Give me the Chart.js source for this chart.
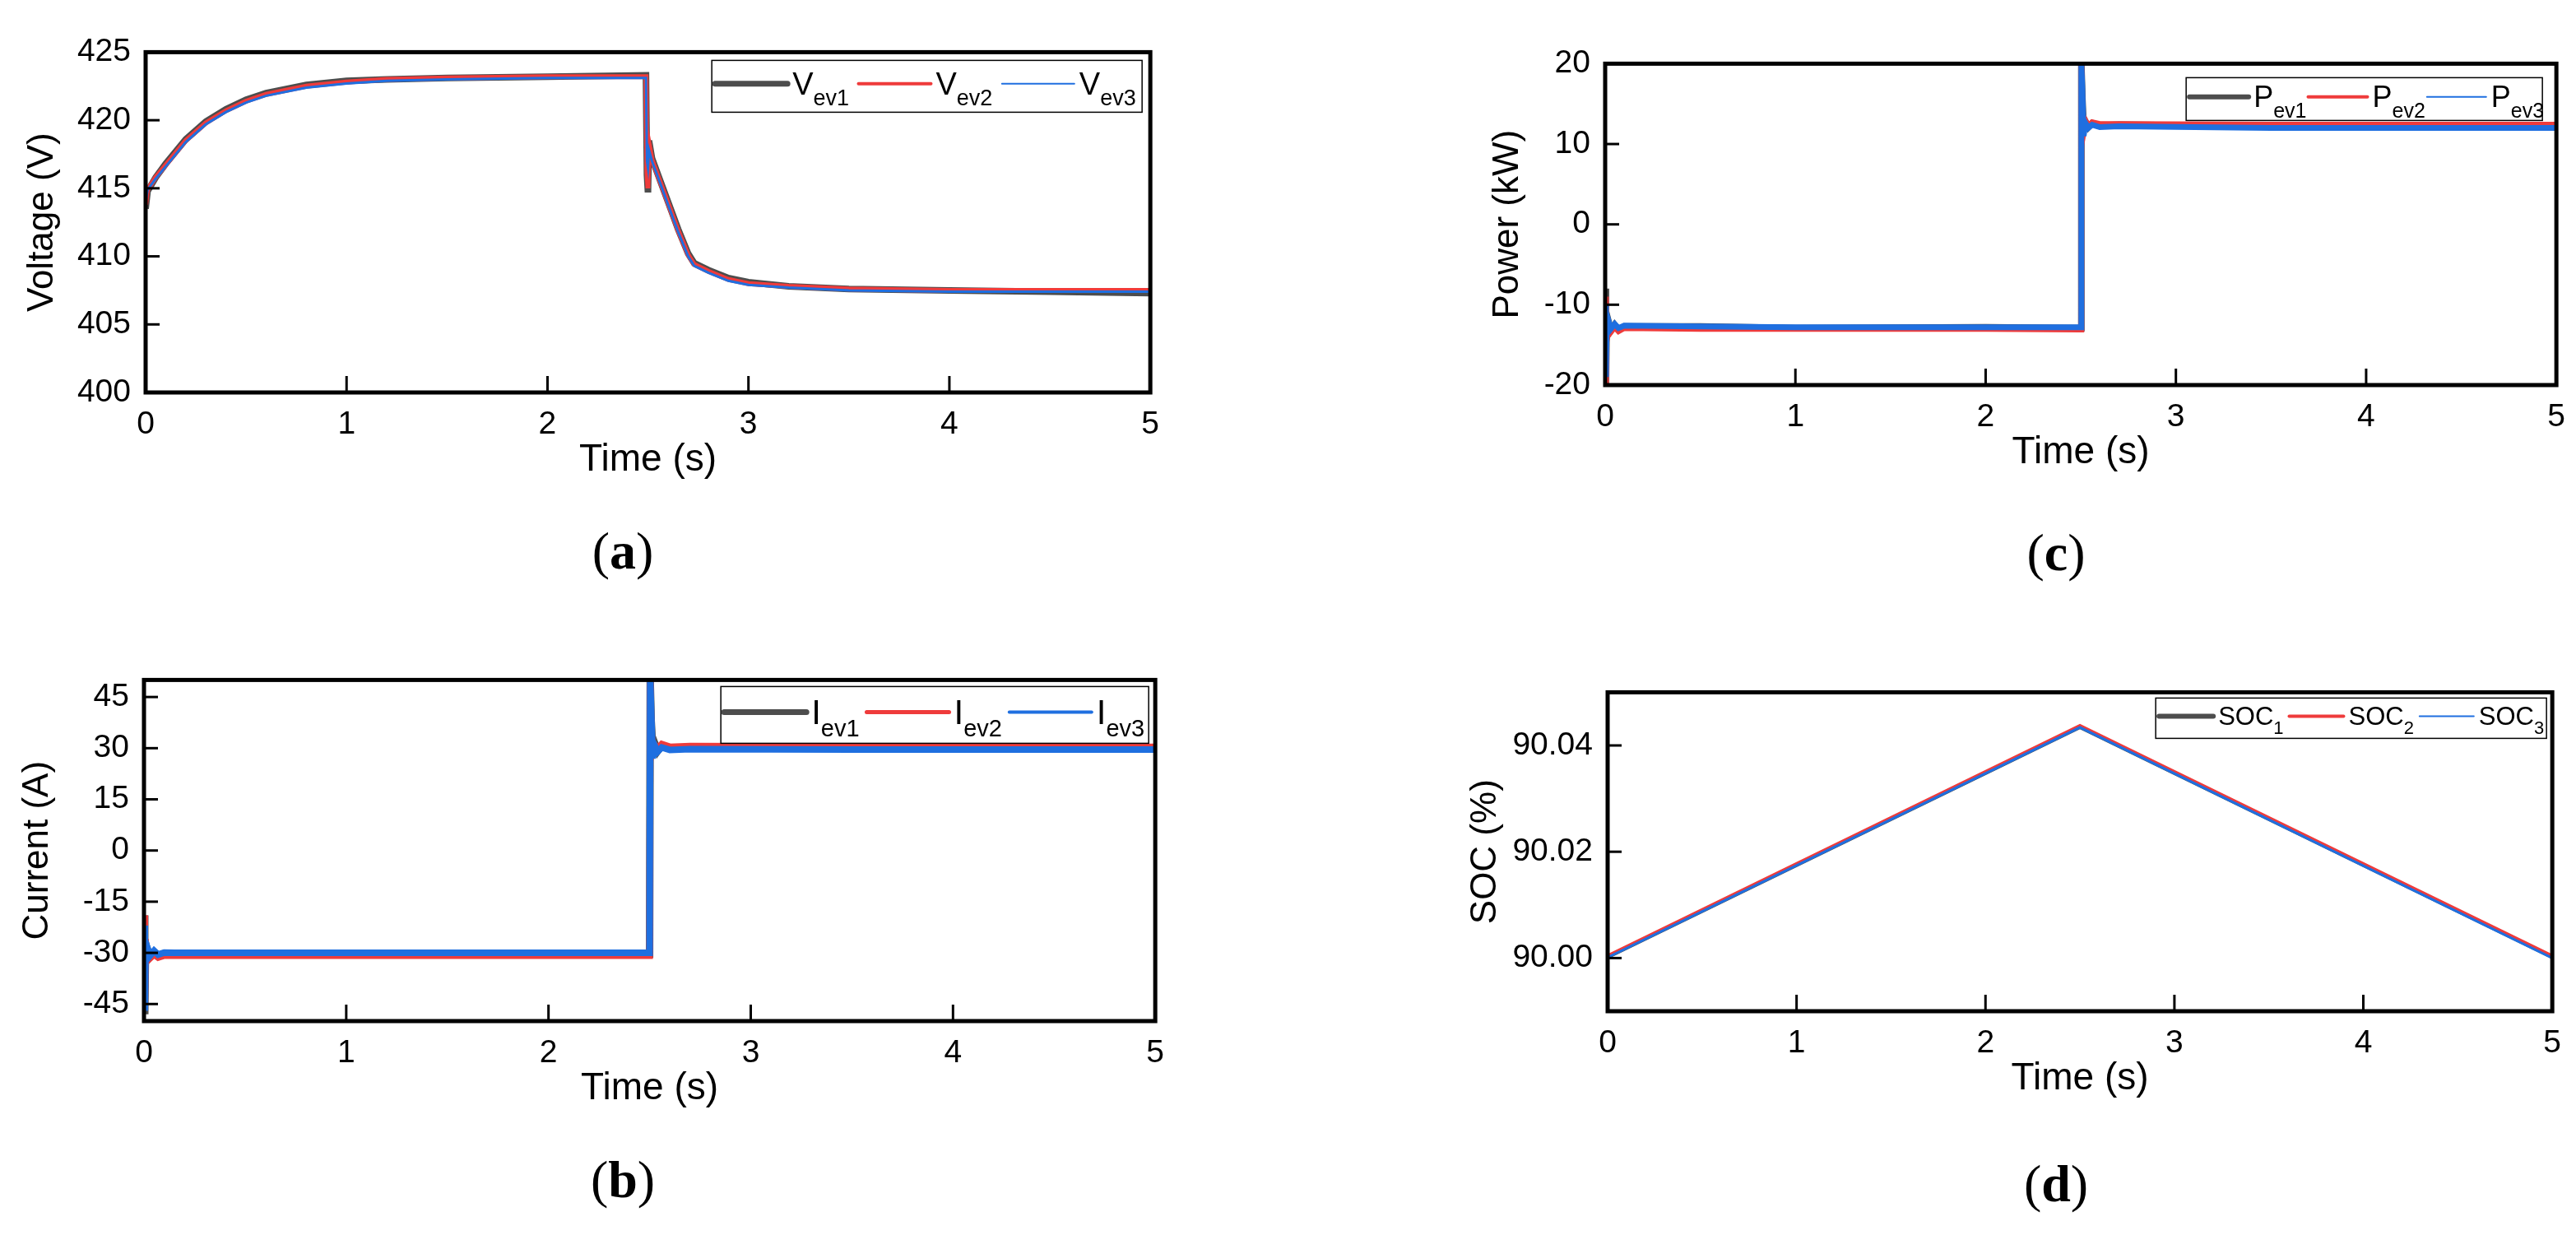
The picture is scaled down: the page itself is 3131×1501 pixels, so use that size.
<!DOCTYPE html>
<html>
<head>
  <meta charset="UTF-8">
  <title>EV voltage, current, power and SOC</title>
  <script src="https://cdn.jsdelivr.net/npm/chart.js"></script>
  <style>
    body { margin: 0; background: #fff; width: 3131px; height: 1501px; position: relative; overflow: hidden; }
    .panel { position: absolute; }
    .cap { position: absolute; font-family: "Liberation Serif", serif; font-size: 64px; transform: translate(-50%, -50%); }
    .cap b { font-weight: bold; }
  </style>
</head>
<body>
  <div class="panel" id="pa"><canvas id="ca"></canvas></div>
  <div class="panel" id="pb"><canvas id="cb"></canvas></div>
  <div class="panel" id="pc"><canvas id="cc"></canvas></div>
  <div class="panel" id="pd"><canvas id="cd"></canvas></div>
  <div class="cap" style="left:757px;top:670px">(<b>a</b>)</div>
  <div class="cap" style="left:757px;top:1434px">(<b>b</b>)</div>
  <div class="cap" style="left:2499px;top:672px">(<b>c</b>)</div>
  <div class="cap" style="left:2499px;top:1439px">(<b>d</b>)</div>

  <script>
    // ---- data ----
    const xTicks = [0, 1, 2, 3, 4, 5];

    // (a) voltage
    const tV = [0, 0.01, 0.05, 0.1, 0.2, 0.3, 0.4, 0.5, 0.6, 0.8, 1.0, 1.2, 1.5, 2.0, 2.49, 2.495, 2.5, 2.505, 2.52, 2.55, 2.6, 2.65, 2.7, 2.73, 2.8, 2.9, 3.0, 3.2, 3.5, 4.0, 4.5, 5.0];
    const vEv1 = [413.5, 414.8, 415.8, 416.8, 418.6, 419.9, 420.8, 421.5, 422.0, 422.6, 422.9, 423.0, 423.1, 423.2, 423.3, 416.0, 414.7, 418.5, 417.2, 416.0, 414.0, 412.0, 410.2, 409.5, 409.0, 408.4, 408.1, 407.8, 407.6, 407.5, 407.4, 407.3];
    const vEv2 = [413.8, 414.9, 415.8, 416.7, 418.5, 419.8, 420.7, 421.4, 421.9, 422.5, 422.8, 423.0, 423.1, 423.2, 423.2, 416.2, 415.0, 418.3, 417.1, 415.9, 413.9, 411.9, 410.1, 409.4, 408.9, 408.3, 408.0, 407.8, 407.6, 407.5, 407.5, 407.5];
    const vEv3 = [414.0, 414.9, 415.7, 416.6, 418.4, 419.7, 420.6, 421.3, 421.8, 422.4, 422.7, 422.9, 423.0, 423.1, 423.1, 417.0, 416.5, 417.8, 417.0, 415.8, 413.8, 411.8, 410.0, 409.3, 408.8, 408.2, 407.9, 407.7, 407.5, 407.4, 407.4, 407.4];
    const vTicks = [400, 405, 410, 415, 420, 425];

    // (b) current
    const tI = [0, 0.004, 0.008, 0.012, 0.02, 0.03, 0.05, 0.07, 0.1, 0.15, 1.0, 2.0, 2.495, 2.5, 2.503, 2.508, 2.515, 2.525, 2.54, 2.56, 2.6, 2.7, 3.5, 5.0];
    const iEv1 = [-19, -48, -27, -31, -29.5, -31.2, -29.8, -31, -30.2, -30.4, -30.4, -30.4, -30.4, -30.4, 50, 38, 30, 31.5, 29.2, 30.8, 29.8, 30.2, 30.0, 30.0];
    const iEv2 = [-19, -46, -26, -32, -30, -31.6, -30.5, -31.4, -30.8, -30.8, -30.8, -30.8, -30.8, -30.8, 50, 36, 29, 31, 30, 31.2, 30.4, 30.6, 30.5, 30.4];
    const iEv3 = [-22, -47, -28, -30.5, -29, -30.8, -29.4, -30.5, -29.9, -30.0, -30.0, -30.0, -30.0, -30.0, 50, 40, 27, 30.8, 29, 30.2, 29.5, 29.7, 29.6, 29.6];
    const iTicks = [-45, -30, -15, 0, 15, 30, 45];

    // (c) power
    const tP = [0, 0.004, 0.008, 0.012, 0.02, 0.03, 0.05, 0.07, 0.1, 0.5, 1.0, 2.0, 2.495, 2.5, 2.503, 2.508, 2.515, 2.525, 2.54, 2.56, 2.6, 2.7, 3.5, 5.0];
    const pEv1 = [-8, -20, -11.5, -13.5, -12.3, -13.2, -12.5, -13.1, -12.7, -12.7, -12.9, -12.8, -12.9, -12.9, 20, 16, 12, 12.8, 12.1, 12.6, 12.3, 12.4, 12.2, 12.1];
    const pEv2 = [-9, -20, -12, -13.8, -12.6, -13.4, -12.8, -13.3, -12.9, -13.0, -13.0, -13.0, -13.1, -13.1, 20, 15, 11.5, 12.9, 12.2, 12.7, 12.5, 12.5, 12.4, 12.4];
    const pEv3 = [-10, -19, -12.5, -13.2, -12.2, -13.0, -12.4, -12.9, -12.6, -12.7, -12.8, -12.8, -12.8, -12.8, 20, 17, 11, 12.6, 12.0, 12.4, 12.1, 12.2, 12.0, 12.0];
    const pTicks = [-20, -10, 0, 10, 20];

    // (d) SOC
    const tS = [0, 2.5, 5];
    const soc1 = [90.0002, 90.0435, 90.0002];
    const soc2 = [90.0004, 90.0437, 90.0004];
    const soc3 = [90.0001, 90.0434, 90.0];
    const sTicks = [90.00, 90.02, 90.04];

    const BLACK = '#4d4d4d', RED = '#ef3b3b', BLUE = '#1f6fe0';
    const tickFont = { family: '"Liberation Sans Narrow", "Liberation Sans", Arial, sans-serif', size: 39 };

    function xy(t, v) { return t.map((x, i) => ({ x: x, y: v[i] })); }

    // frame + inward ticks + legend with subscripts
    const framePlugin = {
      id: 'frame',
      afterDraw(chart) {
        const ctx = chart.ctx, a = chart.chartArea, o = chart.options.plugins.frame;
        ctx.save();
        ctx.strokeStyle = '#000';
        ctx.lineWidth = 3;
        chart.scales.x.ticks.forEach(tk => {
          const px = chart.scales.x.getPixelForValue(tk.value);
          ctx.beginPath(); ctx.moveTo(px, a.bottom); ctx.lineTo(px, a.bottom - 20); ctx.stroke();
        });
        chart.scales.y.ticks.forEach(tk => {
          const py = chart.scales.y.getPixelForValue(tk.value);
          ctx.beginPath(); ctx.moveTo(a.left, py); ctx.lineTo(a.left + 17, py); ctx.stroke();
        });
        ctx.lineWidth = 5;
        ctx.strokeRect(a.left, a.top, a.right - a.left, a.bottom - a.top);

        // legend
        const L = o.legend;
        const bx = a.right - L.gap - L.w, by = a.top + L.gap;
        ctx.fillStyle = '#fff';
        ctx.fillRect(bx, by, L.w, L.h);
        ctx.lineWidth = 1.5;
        ctx.strokeRect(bx, by, L.w, L.h);
        const ew = L.w / 3, ly = by + L.h * 0.45;
        chart.data.datasets.forEach((ds, k) => {
          const x0 = bx + 4 + k * ew;
          ctx.strokeStyle = ds.borderColor;
          ctx.lineWidth = L.widths[k];
          ctx.lineCap = 'round';
          ctx.beginPath(); ctx.moveTo(x0, ly); ctx.lineTo(x0 + L.line, ly); ctx.stroke();
          ctx.fillStyle = '#000';
          ctx.textBaseline = 'alphabetic';
          ctx.font = L.size + 'px ' + tickFont.family;
          const tx = x0 + L.line + 6;
          ctx.fillText(L.main[k], tx, ly + L.size * 0.35);
          const mw = ctx.measureText(L.main[k]).width;
          ctx.font = Math.round(L.size * 0.7) + 'px ' + tickFont.family;
          ctx.fillText(L.sub[k], tx + mw, ly + L.size * 0.7);
        });
        ctx.restore();
      }
    };

    function makePanel(id, box, W, t, series, yMin, yMax, yTicks, dec, yTitle, legend) {
      const div = document.getElementById('p' + id);
      const padTop = 25, padRight = 22, H = 110;
      div.style.left = (box.l - W) + 'px';
      div.style.top = (box.t - padTop) + 'px';
      div.style.width = (box.r - box.l + W + padRight) + 'px';
      div.style.height = (box.b - box.t + padTop + H) + 'px';
      const colors = [BLACK, RED, BLUE];
      new Chart(document.getElementById('c' + id), {
        type: 'line',
        data: {
          datasets: series.map((v, k) => ({
            data: xy(t, v),
            borderColor: colors[k],
            borderWidth: legend.lineWidths[k],
            pointRadius: 0,
            tension: 0,
            order: 3 - k
          }))
        },
        options: {
          responsive: true,
          maintainAspectRatio: false,
          devicePixelRatio: 1,
          animation: false,
          layout: { padding: { top: padTop, right: padRight, left: 0, bottom: 0 } },
          plugins: { legend: { display: false }, tooltip: { enabled: false }, frame: { legend: legend } },
          scales: {
            x: {
              type: 'linear', min: 0, max: 5,
              afterBuildTicks: s => { s.ticks = xTicks.map(v => ({ value: v })); },
              afterFit: s => { s.height = H; },
              grid: { display: false, drawTicks: false },
              border: { display: false },
              ticks: { font: tickFont, color: '#000', padding: 16, maxRotation: 0, autoSkip: false },
              title: { display: true, text: 'Time (s)', color: '#000', font: { family: tickFont.family, size: 46 }, padding: { top: -20, bottom: 0 } }
            },
            y: {
              min: yMin, max: yMax,
              afterBuildTicks: s => { s.ticks = yTicks.map(v => ({ value: v })); },
              afterFit: s => { s.width = W; },
              grid: { display: false, drawTicks: false },
              border: { display: false },
              ticks: { font: tickFont, color: '#000', padding: 18, autoSkip: false, callback: v => v.toFixed(dec) },
              title: { display: true, text: yTitle, color: '#000', font: { family: 'Arial, "Liberation Sans", sans-serif', size: 44 }, padding: 0 }
            }
          }
        },
        plugins: [framePlugin]
      });
    }

    makePanel('a', { l: 177, t: 47, r: 1403, b: 477 }, 152, tV, [vEv1, vEv2, vEv3], 400, 425, vTicks, 0, 'Voltage (V)',
      { gap: 10, w: 523, h: 63, size: 38, line: 88, main: ['V', 'V', 'V'], sub: ['ev1', 'ev2', 'ev3'], widths: [7, 4, 2], lineWidths: [8, 6, 3] });
    makePanel('b', { l: 175, t: 810, r: 1409, b: 1241 }, 156, tI, [iEv1, iEv2, iEv3], -50, 50, iTicks, 0, 'Current (A)',
      { gap: 8, w: 520, h: 69, size: 42, line: 100, main: ['I', 'I', 'I'], sub: ['ev1', 'ev2', 'ev3'], widths: [7, 5, 4], lineWidths: [9, 8, 8] });
    makePanel('c', { l: 1951, t: 61, r: 3112, b: 468 }, 145, tP, [pEv1, pEv2, pEv3], -20, 20, pTicks, 0, 'Power (kW)',
      { gap: 17, w: 433, h: 52, size: 36, line: 72, main: ['P', 'P', 'P'], sub: ['ev1', 'ev2', 'ev3'], widths: [6, 4, 2], lineWidths: [8, 7, 7] });
    makePanel('d', { l: 1954, t: 825, r: 3107, b: 1229 }, 175, tS, [soc1, soc2, soc3], 89.99, 90.05, sTicks, 2, 'SOC (%)',
      { gap: 7, w: 475, h: 49, size: 31, line: 66, main: ['SOC', 'SOC', 'SOC'], sub: ['1', '2', '3'], widths: [6, 4, 2], lineWidths: [5, 4, 3] });
  </script>
</body>
</html>
